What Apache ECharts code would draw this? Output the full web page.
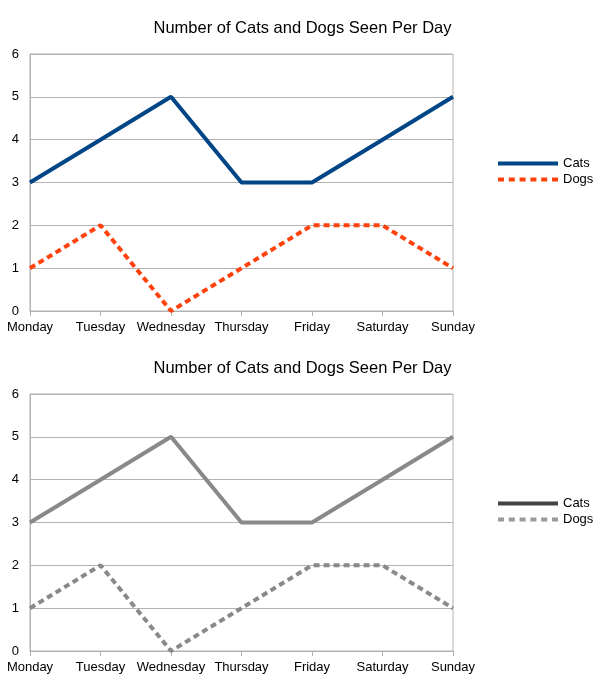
<!DOCTYPE html>
<html>
<head>
<meta charset="utf-8">
<script src="https://cdn.jsdelivr.net/npm/echarts@6/dist/echarts.min.js"></script>
<style>
html,body{margin:0;padding:0;background:#fff;}
.c{width:605px;height:340px;}
</style>
</head>
<body>
<div id="c1" class="c"></div>
<div id="c2" class="c"></div>
<script>
const titleText = 'Number of Cats and Dogs Seen Per Day';
const days = ['Monday','Tuesday','Wednesday','Thursday','Friday','Saturday','Sunday'];
const cats = [3,4,5,3,3,4,5];
const dogs = [1,2,0,1,2,2,1];
const yMin = 0, yMax = 6, yStep = 1;

const FONT = '"Liberation Sans", Arial, sans-serif';
const DASH_ICON = 'path://M0,0h6v4h-6z M10.8,0h6v4h-6z M21.6,0h6v4h-6z M32.4,0h6v4h-6z M43.2,0h6v4h-6z M54,0h6v4h-6z';

function makeOption(catColor, dogColor, legCat, legDog) {
  return {
    animation: false,
    backgroundColor: '#fff',
    title: {
      text: titleText,
      left: 'center',
      top: 15,
      textStyle: {fontFamily: FONT, fontSize: 16.5, fontWeight: 'normal', color: '#000'}
    },
    legend: {
      left: 498,
      top: 157,
      padding: 0,
      orient: 'vertical',
      itemWidth: 60,
      itemHeight: 4,
      itemGap: 3,
      textStyle: {fontFamily: FONT, fontSize: 13, color: '#000', lineHeight: 13},
      data: [
        {name: 'Cats', icon: 'rect', itemStyle: {color: legCat}},
        {name: 'Dogs', icon: DASH_ICON, itemStyle: {color: legDog}}
      ]
    },
    grid: {
      left: 30, right: 152, top: 54, height: 257,
      show: true, borderColor: '#b3b3b3', borderWidth: 1
    },
    xAxis: {
      type: 'category',
      data: days,
      boundaryGap: false,
      axisLine: {lineStyle: {color: '#b3b3b3'}},
      axisTick: {show: true, length: 5, lineStyle: {color: '#b3b3b3'}},
      axisLabel: {fontFamily: FONT, fontSize: 13, color: '#000', margin: 10, interval: 0},
      splitLine: {show: false}
    },
    yAxis: {
      type: 'value',
      min: yMin, max: yMax, interval: yStep,
      axisLine: {show: true, lineStyle: {color: '#b3b3b3'}},
      axisTick: {show: false},
      axisLabel: {fontFamily: FONT, fontSize: 13, color: '#000', margin: 11},
      splitLine: {lineStyle: {color: '#b3b3b3'}}
    },
    series: [
      {
        name: 'Cats', type: 'line', data: cats, symbol: 'none',
        itemStyle: {color: catColor},
        lineStyle: {color: catColor, width: 4}
      },
      {
        name: 'Dogs', type: 'line', data: dogs, symbol: 'none',
        itemStyle: {color: dogColor},
        lineStyle: {color: dogColor, width: 4, type: [6,4]}
      }
    ]
  };
}

const c1 = echarts.init(document.getElementById('c1'));
c1.setOption(makeOption('#004586', '#ff420e', '#004586', '#ff420e'));

const c2 = echarts.init(document.getElementById('c2'));
c2.setOption(makeOption('#898989', '#898989', '#444444', '#9a9a9a'));
</script>
</body>
</html>
